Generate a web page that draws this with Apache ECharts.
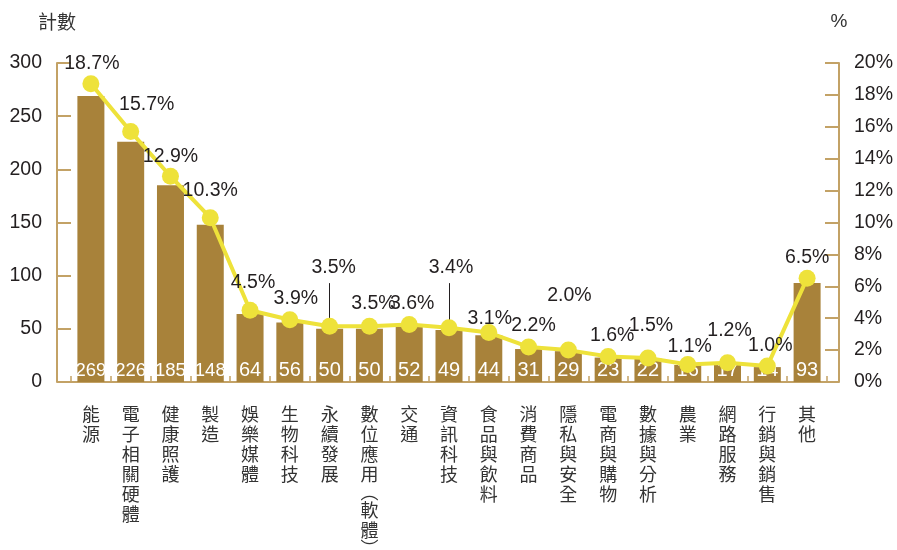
<!DOCTYPE html>
<html>
<head>
<meta charset="utf-8">
<script src="https://cdn.jsdelivr.net/npm/echarts@6/dist/echarts.min.js"></script>
<style>
html,body{margin:0;padding:0;background:#fff;}
#chart{width:897px;height:550px;}
</style>
</head>
<body>
<div id="chart"></div>
<script>
// ---- data ----
const categories = ['能源','電子相關硬體','健康照護','製造','娛樂媒體','生物科技','永續發展','數位應用（軟體）','交通','資訊科技','食品與飲料','消費商品','隱私與安全','電商與購物','數據與分析','農業','網路服務','行銷與銷售','其他'];
const counts = [269,226,185,148,64,56,50,50,52,49,44,31,29,23,22,16,17,14,93];
const percents = [18.7,15.7,12.9,10.3,4.5,3.9,3.5,3.5,3.6,3.4,3.1,2.2,2.0,1.6,1.5,1.1,1.2,1.0,6.5];
const countTicks = {min:0, max:300, interval:50};
const pctTicks = {min:0, max:20, interval:2};

// ---- styles ----
const FONT = '"Liberation Sans", "Noto Sans CJK TC", sans-serif';
const CJK = '"Noto Sans CJK TC", sans-serif';
const TXT = '#231f20';
const AXIS = '#c3a266';
const BAR = '#a8823a';
const LINE = '#eee23a';
// label nudges (style only) for the percentage labels
const labelNudge = [[1,1],[16,-6],[0,2],[0,-6],[3,-6],[6,0],[4,-37],[4,-1],[3,0],[2,-39],[1,7],[5,0],[1,-33],[4,0],[3,-11],[2,3],[2,-11],[3,1],[0,1]];
const leaderIdx = [6, 9];
const leaderTop = 6.2;

const chart = echarts.init(document.getElementById('chart'), null, {renderer:'canvas'});

const lineData = percents.map((v,i)=>({value:v, label:{offset:labelNudge[i]}}));

const option = {
  animation:false,
  textStyle:{fontFamily:FONT},
  grid:{left:71, right:70, top:63, bottom:168, containLabel:false, outerBoundsMode:'none'},
  xAxis:{
    type:'category',
    data:categories,
    axisLine:{show:true, lineStyle:{color:AXIS, width:2}},
    axisTick:{show:true, inside:true, length:6, lineStyle:{color:AXIS, width:1.5}},
    axisLabel:{
      interval:0, margin:22, verticalAlign:'top',
      formatter:(v)=>Array.from(v).map(c=> c==='（' ? '{p|︵}' : c==='）' ? '{p|︶}' : '{a|'+c+'}').join('\n'),
      rich:{
        a:{fontSize:18, lineHeight:20, color:'#333', fontFamily:CJK},
        p:{fontSize:18, lineHeight:16, color:'#333', fontFamily:CJK}
      }
    }
  },
  yAxis:[
    {
      type:'value', min:countTicks.min, max:countTicks.max, interval:countTicks.interval,
      offset:14,
      name:'計數', nameLocation:'end', nameGap:32,
      nameTextStyle:{fontSize:19, color:'#333', fontFamily:CJK, align:'center'},
      axisLine:{show:true, lineStyle:{color:AXIS, width:2}},
      axisTick:{show:true, inside:true, length:14, lineStyle:{color:AXIS, width:2}},
      axisLabel:{fontSize:19.5, color:TXT, margin:15, fontFamily:FONT},
      splitLine:{show:false}
    },
    {
      type:'value', min:pctTicks.min, max:pctTicks.max, interval:pctTicks.interval,
      offset:12, position:'right',
      name:'%', nameLocation:'end', nameGap:32,
      nameTextStyle:{fontSize:19, color:'#333', fontFamily:FONT, align:'center'},
      axisLine:{show:true, lineStyle:{color:AXIS, width:2}},
      axisTick:{show:true, inside:true, length:14, lineStyle:{color:AXIS, width:2}},
      axisLabel:{fontSize:19.5, color:TXT, margin:15, fontFamily:FONT, formatter:'{value}%'},
      splitLine:{show:false}
    }
  ],
  series:[
    {
      type:'bar', yAxisIndex:0, data:counts, barWidth:27,
      itemStyle:{color:BAR},
      label:{show:true, position:'insideBottom', distance:2, color:'#fff', fontFamily:FONT,
        formatter:(p)=> String(p.value).length > 2 ? '{s|'+p.value+'}' : '{n|'+p.value+'}',
        rich:{
          s:{fontSize:18.5, color:'#fff', fontFamily:FONT},
          n:{fontSize:20, color:'#fff', fontFamily:FONT}
        }
      }
    },
    {
      type:'line', yAxisIndex:1, data:lineData,
      symbol:'circle', symbolSize:17,
      lineStyle:{color:LINE, width:4},
      itemStyle:{color:LINE},
      z:5,
      label:{show:true, position:'top', distance:3, color:TXT, fontSize:19.5, fontFamily:FONT,
        formatter:(p)=>p.value.toFixed(1)+'%'},
      markLine:{
        silent:true, symbol:['none','none'], label:{show:false},
        lineStyle:{color:'#231f20', width:1, type:'solid'},
        data: leaderIdx.map(i=>[{coord:[i, percents[i]]},{coord:[i, leaderTop]}])
      }
    }
  ]
};
chart.setOption(option);

// extend the baseline to meet the offset y-axis lines
const y0 = chart.convertToPixel({yAxisIndex:0}, 0);
const gl = 71 - 14, gr = 897 - 70 + 12;
chart.setOption({graphic:[{type:'line', shape:{x1:gl, y1:y0, x2:gr, y2:y0}, style:{stroke:AXIS, lineWidth:2}, z:1}]});
</script>
</body>
</html>
